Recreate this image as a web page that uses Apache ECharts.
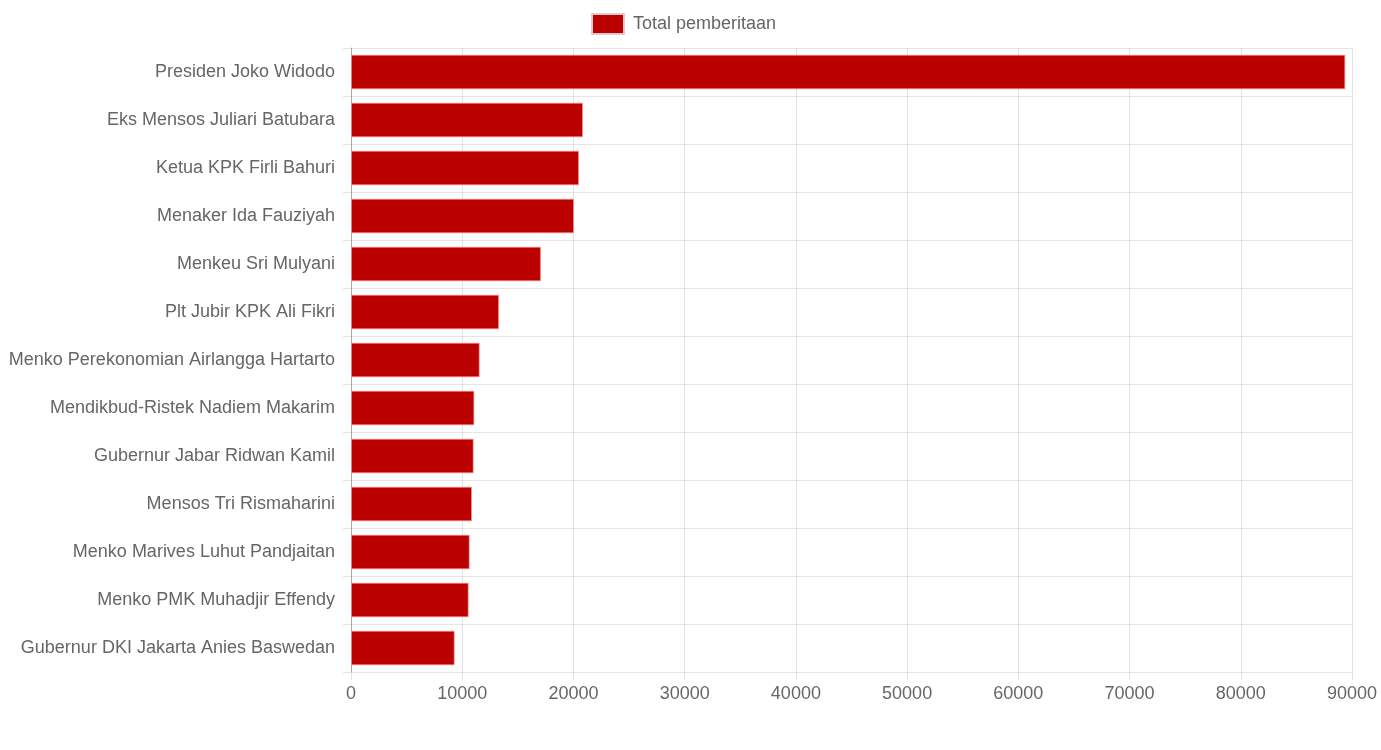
<!DOCTYPE html>
<html>
<head>
<meta charset="utf-8">
<script src="https://cdn.jsdelivr.net/npm/echarts@6/dist/echarts.min.js"></script>
<style>html,body{margin:0;padding:0;background:#fff;}#c{width:1381px;height:750px;}</style>
</head>
<body>
<div id="c"></div>
<script>
const categories = [
  "Presiden Joko Widodo",
  "Eks Mensos Juliari Batubara",
  "Ketua KPK Firli Bahuri",
  "Menaker Ida Fauziyah",
  "Menkeu Sri Mulyani",
  "Plt Jubir KPK Ali Fikri",
  "Menko Perekonomian Airlangga Hartarto",
  "Mendikbud-Ristek Nadiem Makarim",
  "Gubernur Jabar Ridwan Kamil",
  "Mensos Tri Rismaharini",
  "Menko Marives Luhut Pandjaitan",
  "Menko PMK Muhadjir Effendy",
  "Gubernur DKI Jakarta Anies Baswedan"
];
const totalPemberitaan = [89400, 20860, 20500, 20050, 17080, 13310, 11570, 11090, 11030, 10880, 10670, 10580, 9320];
const xTicks = [0, 10000, 20000, 30000, 40000, 50000, 60000, 70000, 80000, 90000];
const seriesName = "Total pemberitaan";

const chart = echarts.init(document.getElementById('c'), null, {renderer: 'canvas'});
const font = '"Liberation Sans", Arial, Helvetica, sans-serif';
chart.setOption({
  animation: false,
  backgroundColor: '#fff',
  legend: {
    left: 591, top: 13, padding: 0,
    itemWidth: 32, itemHeight: 20, itemGap: 10,
    textStyle: {color: '#666', fontSize: 18, fontFamily: font, padding: [0, 0, 0, 4]},
    data: [{name: seriesName, icon: 'rect', itemStyle: {color: '#bb0000', borderColor: '#e8c8c8', borderWidth: 2}}]
  },
  grid: {left: 351, right: 29, top: 48, bottom: 78, containLabel: false},
  xAxis: {
    type: 'value',
    min: xTicks[0], max: xTicks[xTicks.length - 1], interval: 10000,
    axisLine: {show: false},
    axisTick: {show: true, length: 8, lineStyle: {color: 'rgba(0,0,0,0.1)'}},
    axisLabel: {color: '#666', fontSize: 18, fontFamily: font, margin: 13, formatter: v => String(v)},
    splitLine: {show: true, lineStyle: {color: 'rgba(0,0,0,0.11)', width: 1}}
  },
  yAxis: {
    type: 'category',
    inverse: true,
    data: categories,
    axisLine: {show: true, lineStyle: {color: 'rgba(0,0,0,0.25)', width: 1}},
    axisTick: {show: true, length: 8, lineStyle: {color: 'rgba(0,0,0,0.1)'}},
    axisLabel: {color: '#666', fontSize: 18, fontFamily: font, margin: 16},
    splitLine: {show: true, lineStyle: {color: 'rgba(0,0,0,0.1)', width: 1}}
  },
  series: [{
    name: seriesName,
    type: 'bar',
    data: totalPemberitaan,
    barCategoryGap: '28%',
    itemStyle: {color: '#bb0000', borderColor: 'rgba(255,140,140,0.7)', borderWidth: 1}
  }]
});
</script>
</body>
</html>
